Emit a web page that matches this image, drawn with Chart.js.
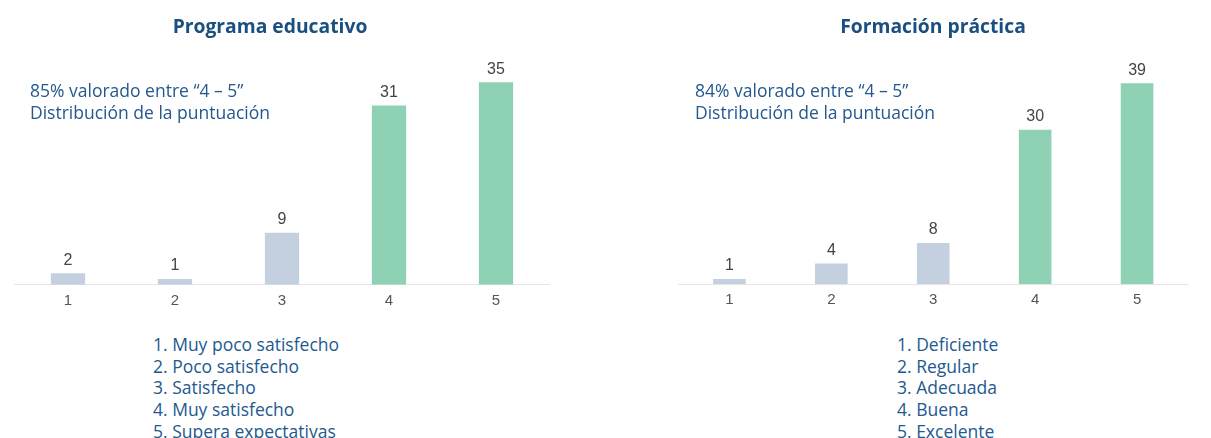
<!DOCTYPE html>
<html lang="es">
<head>
<meta charset="utf-8">
<title>Distribución de la puntuación</title>
<script src="https://cdn.jsdelivr.net/npm/chart.js@4/dist/chart.umd.min.js"></script>
<style>
  html, body { margin: 0; padding: 0; background: #fff; }
  body { width: 1211px; height: 438px; position: relative; overflow: hidden;
         font-family: 'Open Sans', sans-serif; }
  .box { position: absolute; top: 0; height: 330px; }
  .title { position: absolute; font-weight: bold; font-size: 19.3px; color: #1b4f7f;
           white-space: nowrap; transform: translateX(-50%); }
  .note, .list { position: absolute; font-size: 17.5px; color: #23598f; white-space: nowrap; }
  .note { line-height: 22px; }
  .list { line-height: 21.7px; }
</style>
</head>
<body>
<div class="box" style="left:0;width:565px"><canvas id="chartPrograma"></canvas></div>
<div class="box" style="left:660px;width:551px"><canvas id="chartFormacion"></canvas></div>

<div class="title" style="left:270px;top:12px">Programa educativo</div>
<div class="title" style="left:933px;top:12px">Formación práctica</div>

<div class="note" style="left:30px;top:79px">85% valorado entre “4 – 5”<br>Distribución de la puntuación</div>
<div class="note" style="left:695px;top:79px">84% valorado entre “4 – 5”<br>Distribución de la puntuación</div>

<div class="list" style="left:153px;top:334px" id="listPrograma"></div>
<div class="list" style="left:897px;top:334px" id="listFormacion"></div>

<script>
const puntuaciones = ['1', '2', '3', '4', '5'];
const valoresPrograma = [2, 1, 9, 31, 35];
const valoresFormacion = [1, 4, 8, 30, 39];
const escalaPrograma = ['Muy poco satisfecho', 'Poco satisfecho', 'Satisfecho', 'Muy satisfecho', 'Supera expectativas'];
const escalaFormacion = ['Deficiente', 'Regular', 'Adecuada', 'Buena', 'Excelente'];

const gris = '#c4cfdf';
const verde = '#8fd1b5';

// number above each bar
const valueLabels = {
  id: 'valueLabels',
  afterDatasetsDraw(chart) {
    const { ctx } = chart;
    const meta = chart.getDatasetMeta(0);
    ctx.save();
    ctx.font = '16px "Liberation Sans", Arial, sans-serif';
    ctx.fillStyle = '#444';
    ctx.textAlign = 'center';
    ctx.textBaseline = 'middle';
    meta.data.forEach((bar, i) => {
      ctx.fillText(chart.data.datasets[0].data[i], bar.x, bar.y - 13);
    });
    ctx.restore();
  }
};

const makeChart = (id, valores, max, padding) => {
  return new Chart(document.getElementById(id), {
    type: 'bar',
    data: {
      labels: puntuaciones,
      datasets: [{
        data: valores,
        backgroundColor: valores.map((v, i) => (i < 3 ? gris : verde)),
        categoryPercentage: 1,
        barPercentage: 0.32
      }]
    },
    options: {
      responsive: true,
      maintainAspectRatio: false,
      animation: false,
      layout: { padding },
      plugins: { legend: { display: false }, tooltip: { enabled: false } },
      scales: {
        x: {
          grid: { display: false, drawTicks: false },
          border: { color: '#e6e6e6', width: 1 },
          ticks: {
            color: '#555',
            padding: 7,
            font: { family: '"Liberation Sans", Arial, sans-serif', size: 15 }
          }
        },
        y: { display: false, min: 0, max }
      }
    },
    plugins: [valueLabels]
  });
};

makeChart('chartPrograma', valoresPrograma, 39, { left: 14.5, right: 15.5, top: 59.2, bottom: 13.3 });
makeChart('chartFormacion', valoresFormacion, 45, { left: 18.5, right: 23, top: 52.4, bottom: 13.8 });

const fillList = (id, items) => {
  document.getElementById(id).innerHTML = items.map((t, i) => `${i + 1}. ${t}`).join('<br>');
};
fillList('listPrograma', escalaPrograma);
fillList('listFormacion', escalaFormacion);
</script>
</body>
</html>
